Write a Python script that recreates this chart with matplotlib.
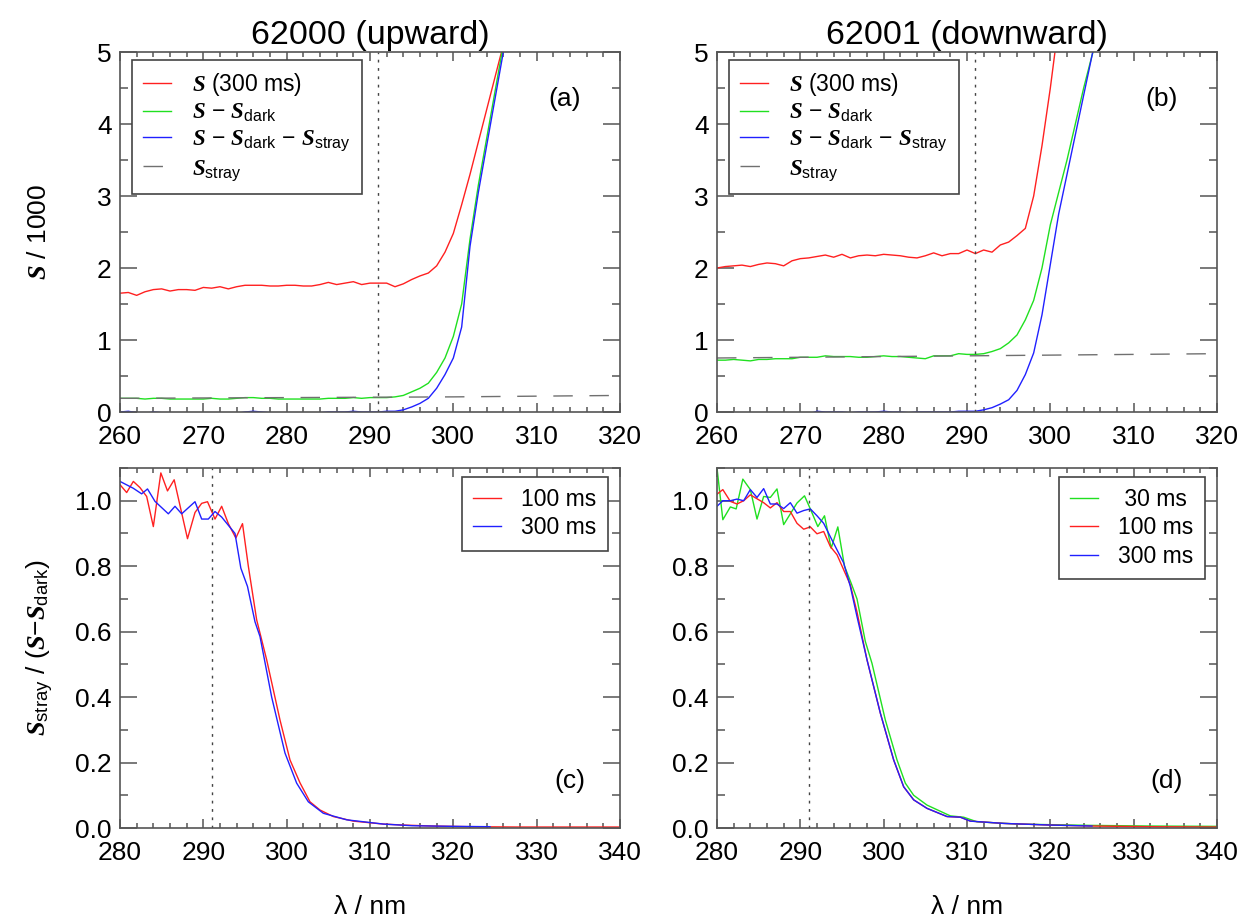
import matplotlib
matplotlib.use('Agg')
import matplotlib.pyplot as plt
from matplotlib.ticker import MultipleLocator

plt.rcParams['font.family'] = ['Liberation Sans', 'DejaVu Sans']
plt.rcParams['mathtext.fontset'] = 'custom'
plt.rcParams['mathtext.rm'] = 'Liberation Sans'
plt.rcParams['mathtext.it'] = 'Liberation Serif:italic:bold'
plt.rcParams['mathtext.bf'] = 'Liberation Sans:bold'

# ---- panel (a): 62000 upward, counts / 1000 ----
a_wl = list(range(260, 308))
a_signal = [1.65, 1.66, 1.62, 1.67, 1.70, 1.71, 1.68, 1.70, 1.70, 1.69,
            1.73, 1.72, 1.74, 1.71, 1.74, 1.76, 1.76, 1.76, 1.75, 1.75,
            1.76, 1.76, 1.75, 1.75, 1.77, 1.80, 1.77, 1.79, 1.81, 1.77,
            1.79, 1.79, 1.79, 1.74, 1.78, 1.84, 1.89, 1.93, 2.03, 2.22,
            2.48, 2.88, 3.30, 3.75, 4.20, 4.65, 5.10, 5.60]
a_dark = [0.19, 0.19, 0.19, 0.18, 0.19, 0.19, 0.18, 0.18, 0.18, 0.18,
          0.18, 0.19, 0.18, 0.18, 0.19, 0.20, 0.20, 0.19, 0.19, 0.18,
          0.18, 0.18, 0.18, 0.18, 0.18, 0.19, 0.19, 0.19, 0.20, 0.19,
          0.20, 0.20, 0.20, 0.21, 0.23, 0.28, 0.33, 0.40, 0.55, 0.75,
          1.05, 1.50, 2.40, 3.15, 3.80, 4.45, 5.10, 5.70]
a_stray_corr = [0.00, 0.01, -0.01, -0.02, 0.00, -0.01, -0.02, -0.02, -0.02, -0.02,
                -0.02, -0.02, -0.02, -0.02, -0.02, 0.00, 0.01, 0.00, -0.01, -0.02,
                -0.02, -0.02, -0.02, -0.02, -0.01, 0.00, 0.00, 0.00, 0.01, 0.00,
                0.00, 0.00, 0.01, 0.01, 0.03, 0.07, 0.12, 0.19, 0.33, 0.52,
                0.75, 1.18, 2.30, 3.05, 3.70, 4.35, 5.00, 5.60]
a_stray_wl = [260, 280, 300, 320]
a_stray = [0.19, 0.20, 0.21, 0.23]

# ---- panel (b): 62001 downward ----
b_wl = list(range(260, 307))
b_signal = [2.00, 2.02, 2.03, 2.04, 2.02, 2.05, 2.07, 2.06, 2.03, 2.10,
            2.13, 2.14, 2.16, 2.18, 2.15, 2.19, 2.14, 2.17, 2.18, 2.17,
            2.19, 2.18, 2.17, 2.15, 2.14, 2.17, 2.21, 2.17, 2.20, 2.20,
            2.25, 2.20, 2.25, 2.22, 2.32, 2.36, 2.45, 2.55, 3.00, 3.70,
            4.50, 5.40, 6.00, 6.50, 7.00, 7.50, 8.00]
b_dark = [0.72, 0.72, 0.73, 0.72, 0.71, 0.73, 0.73, 0.74, 0.74, 0.74,
          0.76, 0.76, 0.76, 0.78, 0.77, 0.77, 0.77, 0.76, 0.76, 0.77,
          0.78, 0.77, 0.77, 0.76, 0.75, 0.74, 0.78, 0.78, 0.78, 0.81,
          0.80, 0.80, 0.81, 0.84, 0.88, 0.96, 1.07, 1.28, 1.55, 2.00,
          2.60, 3.05, 3.50, 4.00, 4.50, 4.95, 5.40]
b_stray_corr = [-0.03, -0.03, -0.03, -0.03, -0.03, -0.03, -0.03, -0.03, -0.03, -0.03,
                -0.03, -0.03, 0.01, 0.00, 0.00, 0.00, -0.01, 0.00, 0.00, 0.00,
                0.01, 0.00, 0.00, -0.01, 0.00, 0.00, 0.00, 0.00, 0.00, 0.01,
                0.01, 0.01, 0.03, 0.06, 0.11, 0.17, 0.30, 0.52, 0.82, 1.35,
                2.05, 2.75, 3.30, 3.85, 4.40, 4.95, 5.50]
b_stray_wl = [260, 280, 300, 320]
b_stray = [0.75, 0.77, 0.79, 0.81]

# ---- panel (c): stray ratio, 62000 ----
c_100_wl = [280, 280.8, 281.6, 282.4, 283.2, 284, 284.9, 285.7, 286.5, 288.1,
            289, 289.8, 290.5, 291.4, 292.2, 293, 293.9, 294.7, 295.4, 296.4,
            297.6, 299.2, 300.4, 301.6, 302.8, 304, 305.6, 308, 311.6, 314,
            317.6, 322, 328, 334, 340]
c_100 = [1.049, 1.025, 1.059, 1.040, 1.013, 0.921, 1.085, 1.030, 1.064, 0.884,
         0.964, 0.992, 0.997, 0.944, 0.983, 0.930, 0.886, 0.930, 0.800, 0.636,
         0.514, 0.330, 0.208, 0.138, 0.080, 0.055, 0.035, 0.021, 0.012, 0.009,
         0.006, 0.004, 0.003, 0.003, 0.003]
c_300_wl = [280, 281.6, 282.6, 283.3, 284.2, 285.8, 286.6, 287.4, 289, 289.8,
            290.6, 291.4, 292.2, 293.8, 294.5, 295.3, 296.2, 296.8, 298.2, 299.8,
            301.2, 302.6, 304.4, 307.2, 311.6, 315, 320, 324.4]
c_300 = [1.059, 1.038, 1.021, 1.036, 0.998, 0.960, 0.983, 0.960, 0.997, 0.944,
         0.944, 0.967, 0.950, 0.900, 0.794, 0.738, 0.630, 0.585, 0.400, 0.229,
         0.137, 0.080, 0.045, 0.025, 0.012, 0.007, 0.005, 0.004]

# ---- panel (d): stray ratio, 62001 ----
d_30_wl = [280, 280.7, 281.6, 282.3, 283.1, 284, 284.8, 285.6, 286.4, 287.2,
           288, 288.8, 289.6, 290.5, 291.2, 292.1, 292.9, 293.7, 294.5, 295.3,
           296.1, 296.8, 297.8, 298.6, 300.2, 301.6, 302.6, 303.6, 305.2, 308,
           309.6, 311.2, 316, 324.8, 332, 340]
d_30 = [1.100, 0.942, 0.981, 0.975, 1.066, 1.034, 0.944, 1.013, 1.010, 1.036,
        0.927, 0.960, 0.993, 1.015, 0.975, 0.921, 0.954, 0.855, 0.920, 0.800,
        0.748, 0.700, 0.570, 0.503, 0.330, 0.208, 0.137, 0.100, 0.070, 0.037,
        0.033, 0.019, 0.012, 0.008, 0.006, 0.005]
d_100_wl = [280, 280.7, 281.6, 282.4, 283.2, 284, 285.6, 286.4, 287.2, 288,
            288.8, 289.6, 290.4, 291.2, 292, 292.8, 293.6, 294.4, 295.2, 296,
            296.8, 298, 299.6, 301.2, 302.4, 303.6, 305.2, 307.6, 309.2, 310.4,
            314.4, 320, 325, 332, 340]
d_100 = [1.020, 1.034, 0.998, 0.990, 1.000, 1.018, 0.994, 0.978, 0.994, 0.967,
         0.967, 0.931, 0.913, 0.920, 0.899, 0.906, 0.860, 0.835, 0.789, 0.743,
         0.660, 0.514, 0.351, 0.208, 0.126, 0.086, 0.060, 0.035, 0.033, 0.021,
         0.014, 0.009, 0.006, 0.004, 0.003]
d_300_wl = [280, 280.7, 281.6, 282.4, 283.2, 284, 284.8, 285.6, 286.4, 287.2,
            288, 288.8, 289.6, 290.4, 291.2, 292, 292.8, 293.6, 294.4, 295.2,
            296, 296.8, 298, 299.6, 301.2, 302.4, 303.6, 305.2, 307.6, 309.2,
            310.4, 314.4, 320, 325]
d_300 = [0.983, 1.000, 1.000, 1.005, 1.000, 1.034, 1.010, 1.037, 0.990, 0.990,
         0.976, 0.994, 0.962, 0.970, 0.975, 0.954, 0.931, 0.890, 0.850, 0.810,
         0.738, 0.646, 0.514, 0.351, 0.208, 0.126, 0.086, 0.060, 0.035, 0.033,
         0.021, 0.014, 0.009, 0.006]

cutoff_wl = 291
titles = ['62000 (upward)', '62001 (downward)']

RED, GREEN, BLUE = '#ff2020', '#20e020', '#2020ff'
SPINE = '#555555'
lw = 1.0

fig = plt.figure(figsize=(12.51, 9.18), dpi=100)
W, H = 1251, 918
def add_ax(x0, y0, x1, y1):
    return fig.add_axes([x0 / W, 1 - y1 / H, (x1 - x0) / W, (y1 - y0) / H])

ax_a = add_ax(120, 52, 620, 412)
ax_b = add_ax(717, 52, 1217, 412)
ax_c = add_ax(120, 468, 620, 828)
ax_d = add_ax(717, 468, 1217, 828)


def style(ax, xlim, ylim, xmaj, xmin, ymaj, ymin):
    ax.set_xlim(*xlim)
    ax.set_ylim(*ylim)
    ax.xaxis.set_major_locator(MultipleLocator(xmaj))
    ax.xaxis.set_minor_locator(MultipleLocator(xmin))
    ax.yaxis.set_major_locator(MultipleLocator(ymaj))
    ax.yaxis.set_minor_locator(MultipleLocator(ymin))
    for s in ax.spines.values():
        s.set_color(SPINE)
        s.set_linewidth(1.2)
    ax.tick_params(axis='both', which='both', direction='in', top=True,
                   right=True, color=SPINE, width=1.1, labelsize=19)
    ax.tick_params(axis='x', which='major', length=6.5, pad=9)
    ax.tick_params(axis='x', which='minor', length=3.5)
    ax.tick_params(axis='y', which='major', length=12, pad=6)
    ax.tick_params(axis='y', which='minor', length=6)
    ax.axvline(cutoff_wl, color='#444444', lw=1.0, ls=(0, (2, 4)))


def legend(ax, spacing=0.12, **kw):
    leg = ax.legend(fontsize=16.5, frameon=True, fancybox=False, framealpha=1,
                    borderaxespad=0, handlelength=1.2, handletextpad=0.9,
                    labelspacing=spacing, borderpad=0.5, **kw)
    leg.get_frame().set_edgecolor('#444444')
    leg.get_frame().set_linewidth(1.2)
    return leg


# top panels
for ax, wl, sig, dark, corr, swl, stray, tag in [
        (ax_a, a_wl, a_signal, a_dark, a_stray_corr, a_stray_wl, a_stray, '(a)'),
        (ax_b, b_wl, b_signal, b_dark, b_stray_corr, b_stray_wl, b_stray, '(b)')]:
    ax.plot(wl, sig, color=RED, lw=lw, label=r'$S$ (300 ms)')
    ax.plot(wl, dark, color=GREEN, lw=lw, label=r'$S$ $-$ $S_{\rm dark}$')
    ax.plot(wl, corr, color=BLUE, lw=lw,
            label=r'$S$ $-$ $S_{\rm dark}$ $-$ $S_{\rm stray}$')
    ax.plot(swl, stray, color='#707070', lw=lw, ls=(0, (14, 12)),
            label=r'$S_{\rm stray}$')
    style(ax, (260, 320), (0, 5), 10, 2, 1, 0.5)
    legend(ax, loc='upper left', bbox_to_anchor=(0.024, 0.978))
    ax.text(0.89, 0.87, tag, transform=ax.transAxes, fontsize=19,
            ha='center', va='center')

ax_a.set_title(titles[0], fontsize=24.5, pad=6)
ax_b.set_title(titles[1], fontsize=24.5, pad=6)
ax_a.set_ylabel(r'$S$ / 1000', fontsize=19, labelpad=33)

# bottom panels
ax_c.plot(c_100_wl, c_100, color=RED, lw=lw, label='100 ms')
ax_c.plot(c_300_wl, c_300, color=BLUE, lw=lw, label='300 ms')
ax_d.plot(d_30_wl, d_30, color=GREEN, lw=lw, label=' 30 ms')
ax_d.plot(d_100_wl, d_100, color=RED, lw=lw, label='100 ms')
ax_d.plot(d_300_wl, d_300, color=BLUE, lw=lw, label='300 ms')

for ax, tag in [(ax_c, '(c)'), (ax_d, '(d)')]:
    style(ax, (280, 340), (0, 1.1), 10, 2, 0.2, 0.1)
    ax.yaxis.set_major_formatter(plt.FormatStrFormatter('%.1f'))
    legend(ax, spacing=0.22, loc='upper right', bbox_to_anchor=(0.976, 0.975))
    ax.text(0.9, 0.13, tag, transform=ax.transAxes, fontsize=19,
            ha='center', va='center')
    ax.set_xlabel('λ / nm', fontsize=19, labelpad=22)

ax_c.set_ylabel(r'$S_{\rm stray}$ / ($S{-}S_{\rm dark}$)', fontsize=19,
                labelpad=14)

fig.savefig('out.png', dpi=100)
